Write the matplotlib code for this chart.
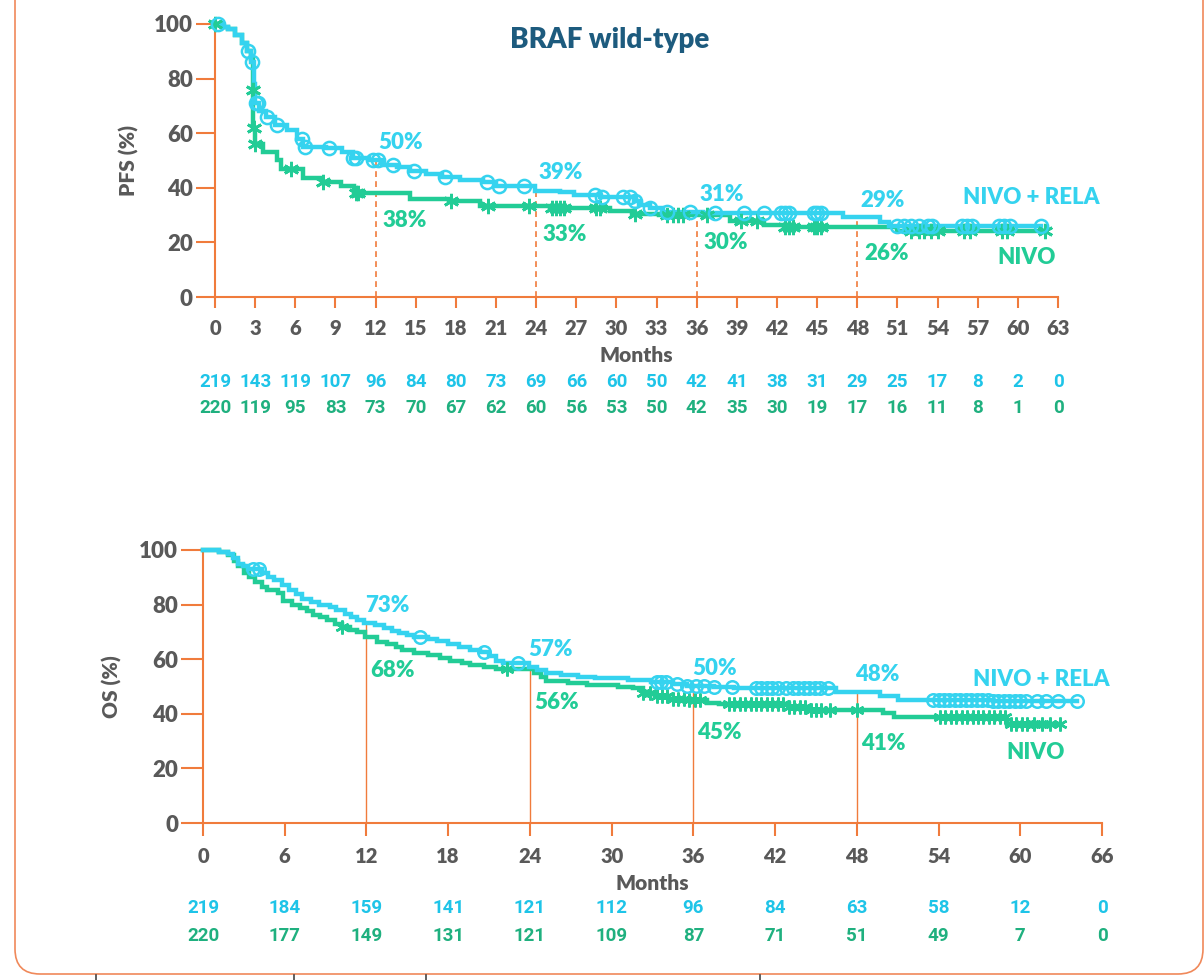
import numpy as np
import matplotlib.pyplot as plt
import matplotlib.transforms as mtransforms
from matplotlib.patches import FancyBboxPatch

# ---------------- data ----------------
# PFS, Kaplan-Meier steps (month, % event-free)
pfs_rela_t = [0, 0.5, 1.0, 1.5, 2.0, 2.4, 2.7, 2.9, 3.0, 3.3, 3.8, 4.5, 5.4, 6.1, 6.6, 8.3, 9.5,
              10.3, 11.5, 12.5, 13.6, 14.6, 15.8, 17.0, 18.3, 20.0, 21.0, 23.9, 25.8, 26.8, 28.8,
              31.3, 31.7, 32.5, 33.5, 36.5, 46.9, 49.7, 50.4]
pfs_rela_s = [100, 99, 98, 96, 93, 90, 86, 78, 71, 68, 66, 63, 61, 58, 55, 54.5, 53,
              51, 50, 48.5, 47.5, 46, 45, 44, 43, 42, 40.5, 39, 38.4, 37.5, 36.5,
              35, 33.7, 32.5, 31.3, 30.7, 29.3, 27.5, 26]
pfs_rela_end = 61.7
pfs_rela_cens = [0.2, 2.45, 2.75, 3.05, 3.2, 3.9, 4.6, 6.5, 6.75, 8.5, 10.3, 10.5, 11.8, 12.2, 13.3,
                 14.9, 17.2, 20.3, 21.2, 23.1, 28.4, 28.9, 30.5, 31.0, 31.4, 32.5, 33.8, 35.5,
                 37.4, 39.5, 41.0, 42.3, 42.6, 42.9, 44.8, 45.0, 45.3, 51.0, 51.5, 52.0, 52.6,
                 53.3, 53.6, 55.8, 56.2, 56.6, 58.6, 59.0, 59.4, 61.7]

pfs_nivo_t = [0, 0.5, 1.0, 1.5, 2.0, 2.4, 2.7, 2.83, 2.87, 3.0, 3.6, 4.6, 4.9, 6.6, 8.0, 9.4, 10.4,
              14.6, 17.5, 19.8, 25.0, 29.5, 31.2, 33.2, 38.5, 41.0, 42.5, 51.0]
pfs_nivo_s = [100, 99, 98, 96, 93, 90, 87, 76, 62, 56, 53, 50, 47, 43.5, 42, 40.5, 38,
              36, 35, 33.3, 32.5, 31.5, 30.5, 30, 28, 26.5, 25.6, 24.3]
pfs_nivo_end = 62.0
pfs_nivo_cens = [0.0, 2.84, 2.88, 3.02, 5.7, 8.1, 10.5, 10.7, 17.6, 20.4, 23.5, 25.2, 25.5, 25.8,
                 26.1, 28.5, 28.8, 31.4, 33.8, 34.2, 34.6, 35.0, 36.8, 39.3, 40.5, 42.6, 42.9,
                 43.2, 44.8, 45.0, 45.3, 52.0, 52.6, 53.0, 53.5, 54.0, 56.0, 56.4, 58.8, 59.2, 62.0]

# OS, Kaplan-Meier steps
os_rela_t = [0, 1.2, 1.8, 2.2, 2.6, 2.9, 3.3, 4.3, 4.8, 5.2, 5.8, 6.3, 6.8, 7.3, 7.9, 8.5, 9.3, 9.8,
             10.4, 10.9, 11.3, 11.8, 12.6, 13.3, 13.9, 14.4, 15.0, 15.5, 16.5, 17.2, 18.0, 18.8,
             19.6, 20.3, 21.0, 21.5, 22.0, 23.9, 24.5, 25.2, 26.3, 27.5, 28.8, 31.2, 32.9, 34.5,
             35.5, 37.5, 39.0, 43.0, 46.5, 49.7, 51.0, 58.0]
os_rela_s = [100, 99.3, 98.5, 97, 95, 94, 93, 91.5, 90, 89, 87, 85.5, 84, 82, 81, 80, 79, 78,
             76.5, 75.5, 74.5, 73.2, 72.7, 71.5, 70.5, 69.6, 69, 68, 67.5, 66.5, 65.5, 64.5,
             63.5, 62.5, 61, 59.5, 58.5, 57.2, 56, 55, 54.2, 53.6, 53, 52.4, 51.7, 51,
             50.2, 50, 49.5, 49.3, 48, 46.5, 45, 44.7]
os_rela_end = 64.2
os_rela_cens = [3.7, 4.1, 15.9, 20.6, 23.1, 33.3, 33.6, 34.0, 34.8, 35.5, 36.2, 36.8, 37.5, 38.8,
                40.6, 41.0, 41.4, 41.8, 42.2, 42.8, 43.3, 43.7, 44.1, 44.5, 44.9, 45.3, 45.9,
                53.6, 54.0, 54.4, 54.8, 55.2, 55.6, 56.0, 56.4, 56.8, 57.2, 57.6, 58.0, 58.4,
                58.8, 59.2, 59.6, 60.0, 60.4, 61.2, 61.9, 62.8, 64.2]

os_nivo_t = [0, 1.2, 1.8, 2.3, 2.6, 3.0, 3.4, 3.8, 4.3, 4.7, 5.5, 5.9, 6.5, 7.1, 7.6, 8.1, 8.6, 9.1,
             9.7, 10.2, 10.8, 11.3, 11.9, 12.8, 13.5, 14.2, 14.6, 15.5, 16.5, 17.4, 18.1, 19.0,
             19.6, 20.6, 21.5, 24.3, 24.8, 25.2, 26.8, 28.2, 30.5, 31.6, 32.3, 33.2, 34.2, 35.5,
             37.0, 37.9, 43.0, 44.5, 49.9, 50.7, 59.0]
os_nivo_s = [100, 99.3, 98, 96, 94, 91.5, 90, 88.3, 86.5, 85.3, 84.2, 81.5, 80, 78.8, 77.5, 76.2,
             75.3, 74.4, 73, 71.8, 70.8, 70, 68.1, 66.3, 65.5, 64.5, 63.2, 62.3, 61.5, 60.5, 59.2,
             58.5, 57.8, 57, 56.3, 55, 53.5, 52, 51.2, 50.5, 50, 49.4, 47.5, 46.5, 45.5, 45,
             44, 43.5, 42.5, 41.5, 40.3, 38.8, 36.3]
os_nivo_end = 62.9
os_nivo_cens = [10.2, 22.3, 32.3, 32.8, 33.3, 33.7, 34.1, 34.5, 34.9, 35.3, 35.7, 36.1, 36.5, 38.6,
                39.0, 39.4, 39.8, 40.2, 40.6, 41.0, 41.4, 41.8, 42.2, 42.6, 43.0, 43.4, 43.8,
                44.2, 44.6, 45.0, 45.4, 46.0, 48.0, 54.1, 54.5, 54.9, 55.3, 55.7, 56.1, 56.5,
                56.9, 57.3, 57.7, 58.1, 58.5, 58.9, 59.3, 59.7, 60.1, 60.5, 61.0, 61.6, 62.2, 62.9]

landmarks = [12, 24, 36, 48]
pfs_rela_pct = [50, 39, 31, 29]
pfs_nivo_pct = [38, 33, 30, 26]
os_rela_pct = [73, 57, 50, 48]
os_nivo_pct = [68, 56, 45, 41]

pfs_ticks = list(range(0, 64, 3))
pfs_risk_rela = [219, 143, 119, 107, 96, 84, 80, 73, 69, 66, 60, 50, 42, 41, 38, 31, 29, 25, 17, 8, 2, 0]
pfs_risk_nivo = [220, 119, 95, 83, 73, 70, 67, 62, 60, 56, 53, 50, 42, 35, 30, 19, 17, 16, 11, 8, 1, 0]
os_ticks = list(range(0, 67, 6))
os_risk_rela = [219, 184, 159, 141, 121, 112, 96, 84, 63, 58, 12, 0]
os_risk_nivo = [220, 177, 149, 131, 121, 109, 87, 71, 51, 49, 7, 0]

# ---------------- style ----------------
BLUE = '#35d3ef'
GREEN = '#22cc96'
BLUE_TXT = '#1ec4e8'
GREEN_TXT = '#1fb07f'
ORANGE = '#f07b3c'
GREY = '#595959'

plt.rcParams.update({'font.family': ['Lato', 'DejaVu Sans'],
                     'font.weight': 'heavy',
                     'axes.labelweight': 'heavy'})

fig = plt.figure(figsize=(12.04, 9.8), dpi=100)

# rounded frame around the slide panel
frame = FancyBboxPatch((0.15, 0.06), 11.88, 10.2, boxstyle='round,pad=0,rounding_size=0.25',
                       transform=fig.dpi_scale_trans, fill=False, edgecolor='#f0895a', lw=1.2)
fig.add_artist(frame)
for xp in [0.96, 2.94, 4.26, 7.6]:
    fig.add_artist(plt.Line2D([xp, xp], [0.0, 0.05], transform=fig.dpi_scale_trans,
                              color='#444444', lw=1.2))


def step_value(t, s, x):
    idx = np.searchsorted(np.array(t), np.array(x), side='right') - 1
    return np.array(s)[idx]


def km(ax, t, s, end, cens, color, marker, ms, mew):
    ax.plot(list(t) + [end], list(s) + [s[-1]], drawstyle='steps-post', color=color,
            lw=3.2, clip_on=False, zorder=3, solid_joinstyle='miter')
    ax.plot(cens, step_value(t, s, cens), ls='none', marker=marker, ms=ms,
            mfc='none' if marker == 'o' else color, mec=color, mew=mew, clip_on=False, zorder=4)


def style_axes(ax, xmax, ticks, ylen, xlen):
    ax.set_xlim(0, xmax)
    ax.set_ylim(0, 100)
    ax.set_xticks(ticks)
    ax.set_yticks(range(0, 101, 20))
    for side in ['top', 'right']:
        ax.spines[side].set_visible(False)
    for side in ['left', 'bottom']:
        ax.spines[side].set_color(ORANGE)
        ax.spines[side].set_linewidth(1.5)
    ax.tick_params(axis='y', length=ylen, width=1.5, color=ORANGE, pad=2,
                   labelsize=16, labelcolor=GREY)
    ax.tick_params(axis='x', length=xlen, width=1.5, color=ORANGE, pad=8,
                   labelsize=14.5, labelcolor=GREY)


def risk_table(ax, ticks, rela, nivo, y_months, y1, y2):
    tr = mtransforms.blended_transform_factory(ax.transData, ax.transAxes)
    ax.text(0.5, y_months, 'Months', transform=ax.transAxes, ha='center', va='center',
            fontsize=15, color=GREY)
    for x, a, b in zip(ticks, rela, nivo):
        ax.text(x, y1, str(a), transform=tr, ha='center', va='center', fontsize=13.5,
                color=BLUE_TXT, weight='bold', family=['Roboto', 'DejaVu Sans'])
        ax.text(x, y2, str(b), transform=tr, ha='center', va='center', fontsize=13.5,
                color=GREEN_TXT, weight='bold', family=['Roboto', 'DejaVu Sans'])


def pct_labels(ax, rela, nivo, dx1, dy1, dx2, dy2):
    for m, a, b in zip(landmarks, rela, nivo):
        ax.text(m + dx1, a + dy1, f'{a}%', color=BLUE, fontsize=16,
                va='center', ha='left')
        ax.text(m + dx2, b + dy2, f'{b}%', color=GREEN, fontsize=16,
                va='center', ha='left')


# ---------------- PFS ----------------
ax1 = fig.add_axes([215 / 1204, 1 - 297 / 980, 843 / 1204, 273 / 980])
style_axes(ax1, 63, pfs_ticks, 14, 8)
ax1.set_ylabel('PFS (%)', fontsize=15, color=GREY)
ax1.yaxis.set_label_coords(-0.09, 0.5)
for m, v in zip(landmarks, pfs_rela_pct):
    ax1.plot([m, m], [0, v], ls=(0, (3.5, 2.5)), color=ORANGE, lw=1.2, zorder=1)
km(ax1, pfs_nivo_t, pfs_nivo_s, pfs_nivo_end, pfs_nivo_cens, GREEN, (6, 2, 0), 11, 2)
km(ax1, pfs_rela_t, pfs_rela_s, pfs_rela_end, pfs_rela_cens, BLUE, 'o', 9.5, 1.8)
pct_labels(ax1, pfs_rela_pct, pfs_nivo_pct, 0.2, 6.5, 0.5, -10)
ax1.text(55.9, 36.3, 'NIVO + RELA', color=BLUE, fontsize=16, va='center', ha='left')
ax1.text(58.5, 14.3, 'NIVO', color=GREEN, fontsize=16, va='center', ha='left')
risk_table(ax1, pfs_ticks, pfs_risk_rela, pfs_risk_nivo, -0.216, -0.311, -0.407)

fig.text(610 / 1204, 1 - 40 / 980, 'BRAF wild-type', ha='center', va='center',
         fontsize=20, color='#1d5b7e')

# ---------------- OS ----------------
ax2 = fig.add_axes([203 / 1204, 1 - 823 / 980, 899 / 1204, 273 / 980])
style_axes(ax2, 66, os_ticks, 16, 9)
ax2.set_ylabel('OS (%)', fontsize=15, color=GREY)
ax2.yaxis.set_label_coords(-0.09, 0.5)
for m, v in zip(landmarks, os_rela_pct):
    ax2.plot([m, m], [0, v], color=ORANGE, lw=1.0, zorder=1)
km(ax2, os_nivo_t, os_nivo_s, os_nivo_end, os_nivo_cens, GREEN, (6, 2, 0), 10, 1.8)
km(ax2, os_rela_t, os_rela_s, os_rela_end, os_rela_cens, BLUE, 'o', 9, 1.8)
pct_labels(ax2, os_rela_pct, os_nivo_pct, -0.1, 6.5, 0.3, -12)
ax2.text(56.5, 52.4, 'NIVO + RELA', color=BLUE, fontsize=16, va='center', ha='left')
ax2.text(59.0, 26, 'NIVO', color=GREEN, fontsize=16, va='center', ha='left')
risk_table(ax2, os_ticks, os_risk_rela, os_risk_nivo, -0.223, -0.311, -0.414)

plt.savefig('out.png', dpi=100)
